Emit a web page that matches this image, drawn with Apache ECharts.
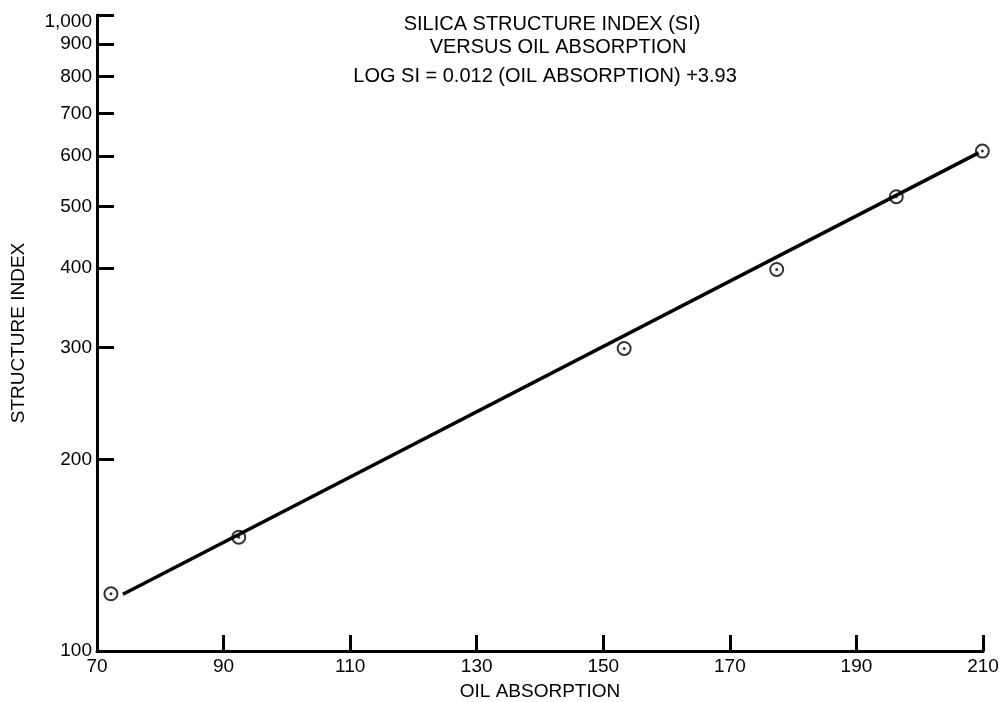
<!DOCTYPE html>
<html>
<head>
<meta charset="utf-8">
<title>Silica structure index</title>
<script src="https://cdn.jsdelivr.net/npm/echarts@6/dist/echarts.min.js"></script>
<style>
	html, body { margin: 0; padding: 0; background: #fff; }
	#chart { width: 1000px; height: 702px; }
</style>
</head>
<body>
<div id="chart"></div>
<script>
	// measured points (oil absorption, structure index)
	var oilAbsorption = [72.2, 92.4, 153.3, 177.4, 196.3, 209.9];
	var structureIndex = [123, 151, 299, 398, 518, 611];
	// fitted line end points
	var fitX = [74.1, 209.3];
	var fitY = [122.8, 607];
	// axis ticks
	var xTicks = [70, 90, 110, 130, 150, 170, 190, 210];
	var yTicks = [100, 200, 300, 400, 500, 600, 700, 800, 900, 1000];
	var yTickLabels = ['100', '200', '300', '400', '500', '600', '700', '800', '900', '1,000'];

	var font = '"Liberation Sans", Arial, sans-serif';
	var titleStyle = { fontFamily: font, fontSize: 20, fontWeight: 'normal', color: '#000' };

	var points = oilAbsorption.map(function (x, i) { return [x, structureIndex[i]]; });
	var fitLine = fitX.map(function (x, i) { return [x, fitY[i]]; });

	var chart = echarts.init(document.getElementById('chart'), null, { renderer: 'canvas' });
	var option = {
		animation: false,
		backgroundColor: '#fff',
		title: [
			{ text: 'SILICA STRUCTURE INDEX (SI)', left: 547, top: 9, textAlign: 'center', textStyle: titleStyle },
			{ text: 'VERSUS OIL ABSORPTION', left: 553, top: 32, textAlign: 'center', textStyle: titleStyle },
			{ text: 'LOG SI = 0.012 (OIL ABSORPTION) +3.93', left: 540, top: 61, textAlign: 'center', textStyle: titleStyle }
		],
		grid: {
			left: 97,
			right: 17,
			top: 15,
			bottom: 51,
			containLabel: false,
			outerBoundsMode: 'none'
		},
		xAxis: {
			type: 'value',
			min: 70,
			max: 210,
			interval: 20,
			name: 'OIL ABSORPTION',
			nameLocation: 'middle',
			nameGap: 31,
			nameTextStyle: { fontFamily: font, fontSize: 19, color: '#000' },
			axisLine: { show: true, lineStyle: { color: '#000', width: 3 } },
			axisTick: { show: true, inside: true, length: 16, lineStyle: { color: '#000', width: 3 }, customValues: xTicks },
			axisLabel: { fontFamily: font, fontSize: 19, color: '#000', margin: 6, customValues: xTicks },
			splitLine: { show: false }
		},
		yAxis: {
			type: 'log',
			logBase: 10,
			min: 100,
			max: 1000,
			name: 'STRUCTURE INDEX',
			nameLocation: 'middle',
			nameRotate: 90,
			nameGap: 69,
			nameTextStyle: { fontFamily: font, fontSize: 19, color: '#000' },
			axisLine: { show: true, lineStyle: { color: '#000', width: 3 } },
			axisTick: { show: true, inside: true, length: 17, lineStyle: { color: '#000', width: 3 }, customValues: yTicks },
			axisLabel: {
				fontFamily: font, fontSize: 19, color: '#000', margin: 5,
				customValues: yTicks,
				formatter: function (v) {
					var i = yTicks.indexOf(Math.round(v));
					if (i < 0) return '';
					// top label sits a little below its tick in the original
					return i === yTicks.length - 1 ? '{low|' + yTickLabels[i] + '}' : yTickLabels[i];
				},
				rich: {
					low: { fontFamily: font, fontSize: 19, color: '#000', padding: [14, 0, 0, 0] }
				}
			},
			splitLine: { show: false }
		},
		series: [
			{
				name: 'fit',
				type: 'line',
				data: fitLine,
				symbol: 'none',
				z: 3,
				lineStyle: { color: '#000', width: 3.5 }
			},
			{
				name: 'points',
				type: 'scatter',
				data: points,
				symbol: 'emptyCircle',
				symbolSize: 13,
				z: 2,
				itemStyle: { color: '#000', borderColor: '#000', borderWidth: 2.2 }
			},
			{
				name: 'dots',
				type: 'scatter',
				data: points,
				symbol: 'circle',
				symbolSize: 3,
				z: 4,
				itemStyle: { color: '#000' }
			}
		]
	};
	chart.setOption(option);
</script>
</body>
</html>
